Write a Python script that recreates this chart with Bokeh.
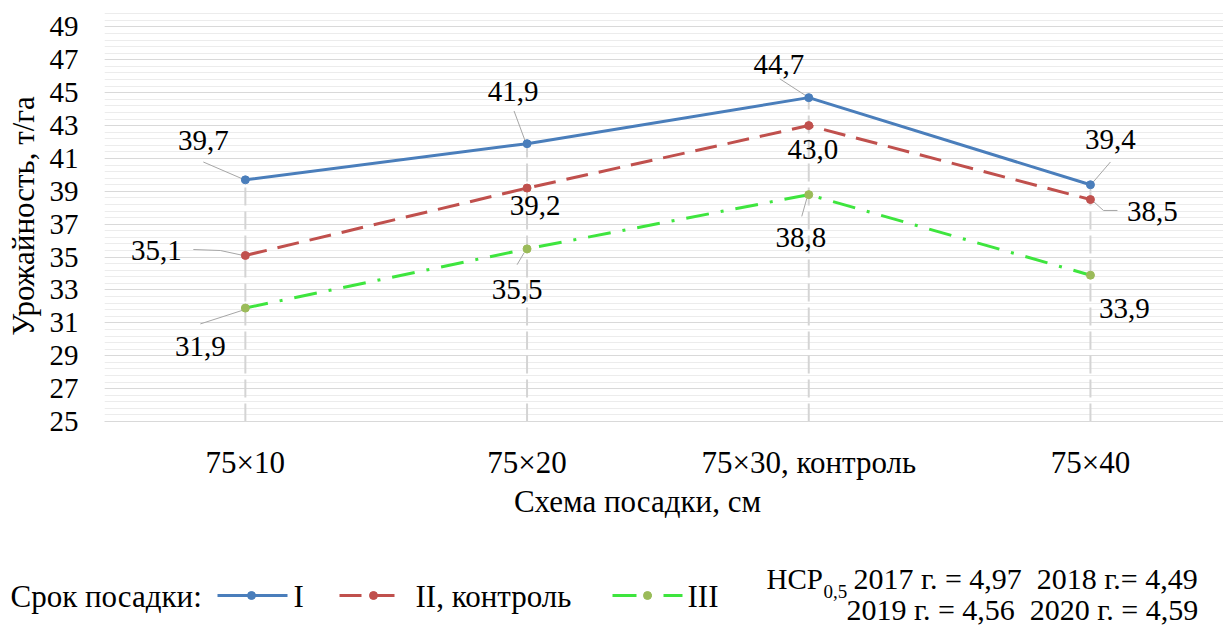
from bokeh.plotting import figure
from bokeh.layouts import column
from bokeh.models import FixedTicker, Range1d
from bokeh.embed import file_html
from bokeh.resources import INLINE
from bokeh.core.properties import value

# ---------------- data ----------------
categories = ["75×10", "75×20", "75×30, контроль", "75×40"]
series_names = ["I", "II, контроль", "III"]
yield_I = [39.7, 41.9, 44.7, 39.4]
yield_II = [35.1, 39.2, 43.0, 38.5]
yield_III = [31.9, 35.5, 38.8, 33.9]
y_ticks = [25, 27, 29, 31, 33, 35, 37, 39, 41, 43, 45, 47, 49]
legend_title = "Срок посадки:"
x_title = "Схема посадки, см"
y_title = "Урожайность, т/га"
ncp_head = "НСР"
ncp_sub = "0,5"
ncp_line1 = "2017 г. = 4,97\u00a0 2018 г.= 4,49"
ncp_line2 = "2019 г. = 4,56\u00a0 2020 г. = 4,59"

# ---------------- styling ----------------
FONT = "Liberation Serif"
colors_line = ["#4a7ebb", "#c0504d", "#3ee53e"]
colors_mark = ["#4a7ebb", "#c0504d", "#9bbb59"]
dashes = ["solid", "22 11", "23 12 3 12"]

W = 1223
H_MAIN = 482
H_BOT = 628 - H_MAIN
LEFT, TOP, BOTTOM = 104, 10, 57
PXX = 281.7
X_END = (W - LEFT) / PXX
Y_START, Y_END = 25, 50
PXY = (H_MAIN - TOP - BOTTOM) / (Y_END - Y_START)

xs = [i + 0.5 for i in range(len(categories))]
series = [yield_I, yield_II, yield_III]

p = figure(width=W, height=H_MAIN, output_backend="svg", toolbar_location=None,
           x_range=Range1d(0, X_END), y_range=Range1d(Y_START, Y_END),
           min_border_left=LEFT, min_border_top=TOP, min_border_bottom=BOTTOM,
           min_border_right=0)
p.outline_line_color = None

p.yaxis.ticker = FixedTicker(ticks=y_ticks,
                             minor_ticks=[round(25 + 0.4 * k, 1) for k in range(63)])
p.yaxis.axis_line_color = None
p.yaxis.major_tick_line_color = None
p.yaxis.minor_tick_line_color = None
p.yaxis.major_tick_out = 0
p.yaxis.major_tick_in = 0
p.yaxis.minor_tick_out = 0
p.yaxis.major_label_standoff = 26
p.yaxis.major_label_text_font = FONT
p.yaxis.major_label_text_font_size = "29px"
p.yaxis.major_label_text_color = "black"
p.yaxis.axis_label = y_title
p.yaxis.axis_label_text_font = FONT
p.yaxis.axis_label_text_font_size = "31px"
p.yaxis.axis_label_text_font_style = "normal"
p.yaxis.axis_label_text_color = "black"
p.yaxis.axis_label_standoff = 6

p.xaxis.ticker = FixedTicker(ticks=xs)
p.xaxis.major_label_overrides = {x: c for x, c in zip(xs, categories)}
p.xaxis.axis_line_color = "#d9d9d9"
p.xaxis.major_tick_line_color = None
p.xaxis.minor_tick_line_color = None
p.xaxis.major_tick_out = 0
p.xaxis.major_tick_in = 0
p.xaxis.major_label_standoff = 23
p.xaxis.major_label_text_font = FONT
p.xaxis.major_label_text_font_size = "31px"
p.xaxis.major_label_text_color = "black"

p.xgrid.grid_line_color = None
p.ygrid.grid_line_color = "#d9d9d9"
p.ygrid.grid_line_width = 1
p.ygrid.minor_grid_line_color = "#ececec"
p.ygrid.minor_grid_line_width = 1

# drop lines from the highest series down to the axis
top_vals = [max(v) for v in zip(*series)]
p.segment(x0=xs, y0=[Y_START] * 4, x1=xs, y1=top_vals, line_color="#d4d4d4",
          line_width=2, line_dash="18 6")

# leader lines (pixel offsets relative to the point, screen y down)
leaders = {
    (0, 0): [(-42, -18), (-3, -1)],
    (0, 1): [(-13, -33), (-2, -3)],
    (0, 2): [(-29, -19), (-3, -2)],
    (0, 3): [(20, -23), (3, -3)],
    (1, 0): [(-52, -6), (-25, -5), (-2, 0)],
    (1, 3): [(27, 11), (13, 11), (2, 1)],
    (2, 0): [(-45, 16), (-2, 2)],
    (2, 1): [(-10, 16), (-3, 4)],
    (2, 2): [(-7, 22), (-2, 4)],
}
lx, ly = [], []
for (si, ci), pts in leaders.items():
    x0 = xs[ci]
    y0 = series[si][ci]
    lx.append([x0 + a / PXX for a, b in pts])
    ly.append([y0 - b / PXY for a, b in pts])
p.multi_line(xs=lx, ys=ly, line_color="#a6a6a6", line_width=1)

for si, vals in enumerate(series):
    p.line(xs, vals, line_color=colors_line[si], line_width=3, line_dash=dashes[si])
    p.scatter(xs, vals, size=8, marker="circle", fill_color=colors_mark[si],
              line_color=colors_mark[si])

# data labels (pixel offsets of the label centre from the point)
offsets = [
    [(-42, -39), (-14, -52), (-30, -33), (20, -45)],
    [(-89, -5), (8, 17), (4, 24), (62, 12)],
    [(-45, 38), (-10, 41), (-8, 43), (34, 33)],
]
for si, vals in enumerate(series):
    p.text(x=xs, y=vals, text=[f"{v:.1f}".replace(".", ",") for v in vals],
           x_offset=[o[0] for o in offsets[si]], y_offset=[o[1] for o in offsets[si]],
           text_align="center", text_baseline="middle",
           text_font=value(FONT), text_font_size="29px", text_color="black")

# ---------------- bottom panel: x title, legend, note ----------------
q = figure(width=W, height=H_BOT, output_backend="svg", toolbar_location=None,
           x_range=Range1d(0, W), y_range=Range1d(628, H_MAIN),
           x_axis_location=None, y_axis_location=None,
           min_border=0, min_border_left=0, min_border_right=0,
           min_border_top=0, min_border_bottom=0)
q.outline_line_color = None
q.grid.visible = False
for fig in (p, q):
    try:
        fig.frame_align = False
    except Exception:
        pass

def txt(x, y, s, size="31px", align="left"):
    q.text(x=[x], y=[y], text=[s], text_align=align, text_baseline="middle",
           text_font=value(FONT), text_font_size=size, text_color="black")

txt(637, 501, x_title, size="31px", align="center")
txt(10, 596, legend_title)

leg_line = [(217, 287), (339, 402), (612, 682)]
leg_dot = [251, 373, 647]
leg_text = [293, 415, 687]
for si in range(3):
    q.line(x=list(leg_line[si]), y=[595, 595], line_color=colors_line[si], line_width=3,
           line_dash=dashes[si] if si != 2 else "24 12 3 12")
    q.scatter(x=[leg_dot[si]], y=[595], size=8, marker="circle",
              fill_color=colors_mark[si], line_color=colors_mark[si])
    txt(leg_text[si], 596, series_names[si])

txt(766, 578, ncp_head, size="29px")
txt(823, 591, ncp_sub, size="19px")
txt(853, 578, ncp_line1, size="30px")
txt(846, 609, ncp_line2, size="30px")

open("out.html", "w").write(file_html(column(p, q), INLINE))
